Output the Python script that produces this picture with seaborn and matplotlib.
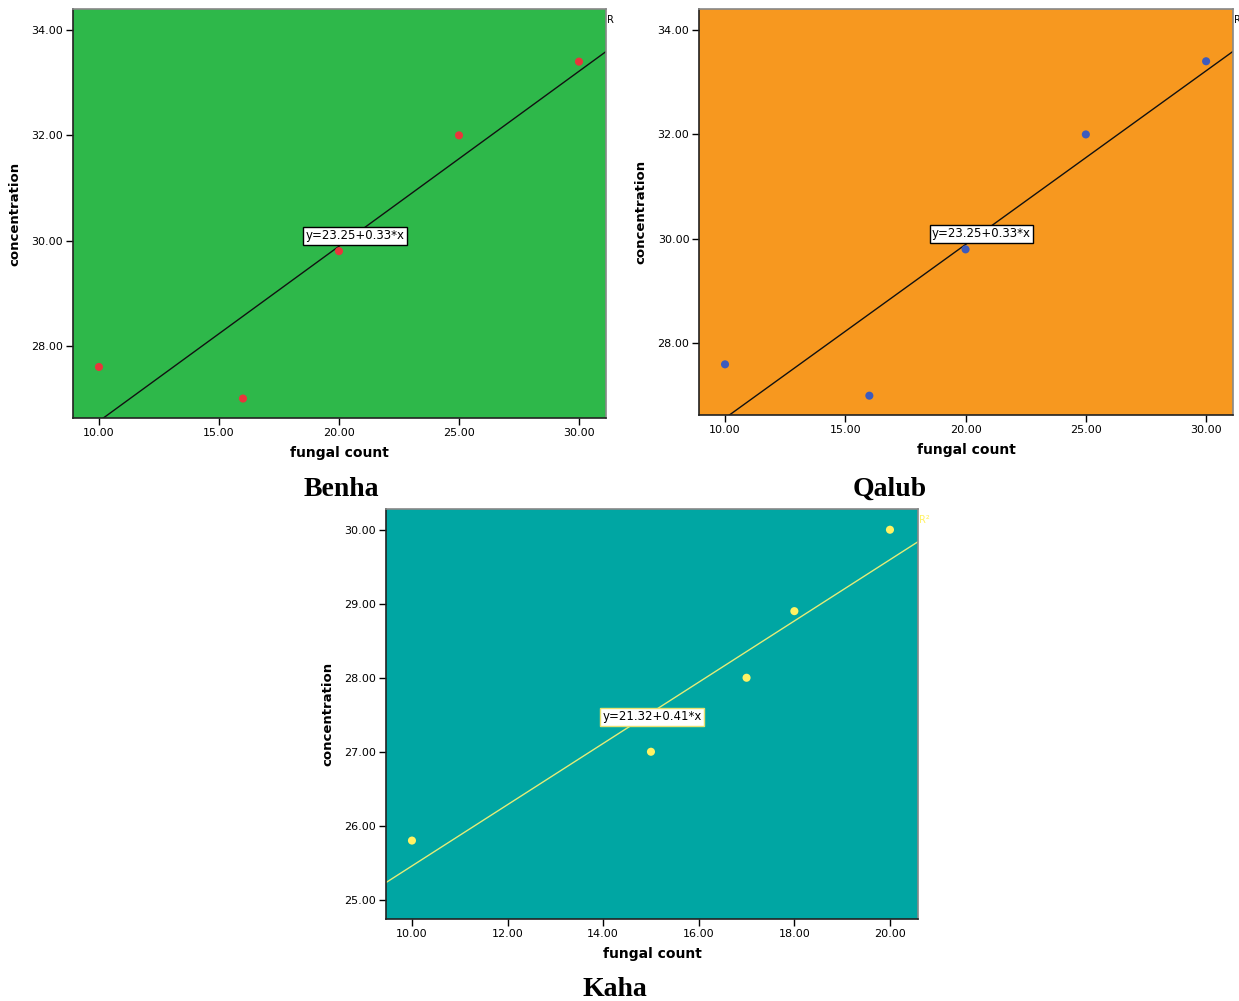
import matplotlib
matplotlib.use("Agg")
import matplotlib.pyplot as plt
import seaborn as sns
import numpy as np
import pandas as pd

# data
benha_fungal = [10, 16, 20, 25, 30]
benha_conc = [27.6, 27.0, 29.8, 32.0, 33.4]
qalub_fungal = [10, 16, 20, 25, 30]
qalub_conc = [27.6, 27.0, 29.8, 32.0, 33.4]
kaha_fungal = [10, 15, 17, 18, 20]
kaha_conc = [25.8, 27.0, 28.0, 28.9, 30.0]

sns.set_style("white")
plt.rcParams['font.family'] = ['DejaVu Sans']
plt.rcParams['text.color'] = 'black'
plt.rcParams['axes.labelcolor'] = 'black'
plt.rcParams['xtick.color'] = 'black'
plt.rcParams['ytick.color'] = 'black'

fig = plt.figure(figsize=(12.39, 10.01), dpi=100)

panels = [
    dict(name="Benha", x=benha_fungal, y=benha_conc, rect=[0.0589, 0.5824, 0.4302, 0.4086],
         bg="#2eb84a", pt="#e8353b", line="#111111", box_edge="black",
         xlim=(8.917, 31.125), ylim=(26.63, 34.40), xt=[10, 15, 20, 25, 30], yt=[28, 30, 32, 34],
         lab=(20.67, 30.09), r="R", rcol="black", title_xy=(341, 489)),
    dict(name="Qalub", x=qalub_fungal, y=qalub_conc, rect=[0.5642, 0.5854, 0.4310, 0.4056],
         bg="#f7981f", pt="#3d5bbd", line="#111111", box_edge="black",
         xlim=(8.92, 31.12), ylim=(26.63, 34.40), xt=[10, 15, 20, 25, 30], yt=[28, 30, 32, 34],
         lab=(20.66, 30.10), r="R", rcol="black", title_xy=(890, 489)),
    dict(name="Kaha", x=kaha_fungal, y=kaha_conc, rect=[0.3115, 0.0819, 0.4294, 0.4096],
         bg="#00a6a3", pt="#fff263", line="#e4ec78", box_edge="#e8e070",
         xlim=(9.456, 20.586), ylim=(24.74, 30.28), xt=[10, 12, 14, 16, 18, 20], yt=[25, 26, 27, 28, 29, 30],
         lab=(15.02, 27.47), r="R²", rcol="#fff263", title_xy=(615, 990)),
]

for p in panels:
    ax = fig.add_axes(p["rect"])
    ax.set_facecolor(p["bg"])
    ax.set_xlim(*p["xlim"])
    ax.set_ylim(*p["ylim"])
    df = pd.DataFrame({"fungal count": p["x"], "concentration": p["y"]})
    sns.regplot(data=df, x="fungal count", y="concentration", ax=ax, scatter=False,
                ci=None, truncate=False, line_kws=dict(color=p["line"], lw=1.0))
    sns.scatterplot(data=df, x="fungal count", y="concentration", ax=ax, color=p["pt"],
                    s=34, edgecolor="none", zorder=3)
    ax.set_xlim(*p["xlim"])
    ax.set_ylim(*p["ylim"])
    m, b = np.polyfit(p["x"], p["y"], 1)
    ax.text(p["lab"][0], p["lab"][1], f"y={b:.2f}+{m:.2f}*x", ha="center", va="center",
            fontsize=8.5, zorder=5,
            bbox=dict(facecolor="white", edgecolor=p["box_edge"], boxstyle="square,pad=0.2", lw=1))
    ax.set_xticks(p["xt"])
    ax.set_yticks(p["yt"])
    ax.set_xticklabels([f"{v:.2f}" for v in p["xt"]], fontsize=8)
    ax.set_yticklabels([f"{v:.2f}" for v in p["yt"]], fontsize=8)
    ax.tick_params(axis="both", direction="out", length=5, width=1, color="black",
                   bottom=True, left=True, pad=2)
    ax.set_xlabel("fungal count", fontsize=10, fontweight="bold", labelpad=6)
    ax.set_ylabel("concentration", fontsize=9.5, fontweight="bold", labelpad=7)
    for s in ["left", "bottom"]:
        ax.spines[s].set_color("#222222")
        ax.spines[s].set_linewidth(1.2)
    for s in ["top", "right"]:
        ax.spines[s].set_color("#888888")
        ax.spines[s].set_linewidth(1.2)
    ax.text(1.001, 0.985, p["r"], transform=ax.transAxes, fontsize=7, color=p["rcol"],
            ha="left", va="top")
    tx, ty = p["title_xy"]
    fig.text(tx / 1239, 1 - ty / 1001, p["name"], ha="center", va="center",
             fontsize=20, fontweight="bold", family=["Liberation Serif", "DejaVu Serif"])

fig.savefig("out.png", dpi=100)
